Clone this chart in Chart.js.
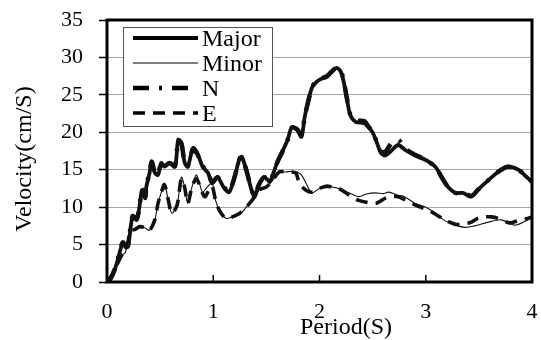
<!DOCTYPE html>
<html>
<head>
<meta charset="utf-8">
<script src="https://cdn.jsdelivr.net/npm/chart.js@4"></script>
<style>
  html, body { margin: 0; padding: 0; background: #fff; }
  #wrap { width: 541px; height: 340px; }
</style>
</head>
<body>
<div id="wrap"><canvas id="velocityChart" width="541" height="340"></canvas></div>
<script>
// response spectra, period in seconds, velocity in cm/s
const seriesNames = ["Major", "Minor", "N", "E"];
const periodTicks = [0, 1, 2, 3, 4];
const velocityTicks = [0, 5, 10, 15, 20, 25, 30, 35];

const majorPeriod = [0,0.03,0.07,0.10,0.13,0.15,0.18,0.20,0.24,0.28,0.31,0.33,0.36,0.37,0.40,0.42,0.45,0.48,0.51,0.54,0.59,0.64,0.67,0.70,0.73,0.76,0.81,0.85,0.90,0.95,0.99,1.04,1.10,1.15,1.20,1.25,1.27,1.31,1.36,1.39,1.43,1.48,1.53,1.55,1.60,1.65,1.70,1.74,1.79,1.83,1.86,1.89,1.93,1.97,2.01,2.07,2.12,2.16,2.20,2.23,2.26,2.29,2.34,2.42,2.46,2.50,2.54,2.58,2.62,2.68,2.74,2.81,2.90,3.00,3.09,3.15,3.21,3.28,3.35,3.43,3.49,3.59,3.68,3.77,3.87,3.96,4.00];
const majorVelocity = [0,0.3,1.5,2.9,4.5,5.2,4.6,4.8,8.7,8.3,10.5,12.3,11.2,12.7,14.5,16.0,14.6,14.3,15.9,15.4,15.9,15.4,19.0,18.6,16.0,15.4,17.9,17.2,15.4,14.6,13.2,14.0,12.6,12.0,14.0,16.6,16.7,15.0,12.3,11.4,13.0,14.0,13.4,13.9,15.9,17.4,19.0,20.7,20.3,19.4,22.0,23.9,26.0,26.7,27.1,27.4,28.1,28.6,28.1,26.6,24.3,22.3,21.4,21.2,20.7,20.0,18.6,17.2,16.9,17.6,18.3,17.6,16.9,16.3,15.4,14.0,12.7,11.9,11.9,11.4,12.3,13.6,14.7,15.4,15.0,13.9,13.4];

const minorPeriod = [0,0.05,0.10,0.14,0.17,0.20,0.22,0.26,0.31,0.36,0.40,0.45,0.48,0.51,0.54,0.57,0.61,0.66,0.70,0.73,0.76,0.80,0.84,0.87,0.90,0.95,0.99,1.02,1.06,1.12,1.18,1.25,1.31,1.37,1.43,1.50,1.56,1.62,1.68,1.74,1.79,1.83,1.88,1.93,2.00,2.06,2.12,2.18,2.28,2.37,2.45,2.53,2.60,2.65,2.74,2.80,2.90,3.00,3.09,3.18,3.28,3.37,3.46,3.59,3.71,3.84,3.96,4.00];
const minorVelocity = [0,1.0,2.5,3.6,3.9,5.5,6.9,7.0,7.4,7.2,6.9,8.3,10.5,11.9,13.2,11.4,9.2,10.3,14.0,12.7,10.5,12.7,14.3,13.2,12.0,12.8,13.2,11.0,9.5,8.5,8.7,9.0,10.0,11.0,12.3,12.7,13.6,14.7,14.7,14.8,14.7,14.3,13.0,11.9,12.5,12.6,12.7,12.5,11.9,11.4,11.8,11.9,11.8,12.0,11.6,11.4,10.5,10.0,9.2,8.2,7.6,7.3,7.5,8.0,8.3,7.6,8.3,8.5];

const nPeriod = [0,0.03,0.07,0.10,0.13,0.15,0.18,0.20,0.24,0.28,0.31,0.33,0.36,0.37,0.40,0.42,0.45,0.48,0.51,0.54,0.59,0.64,0.67,0.70,0.73,0.76,0.81,0.85,0.90,0.95,0.99,1.04,1.10,1.15,1.20,1.25,1.27,1.31,1.36,1.39,1.43,1.48,1.53,1.55,1.60,1.65,1.70,1.74,1.79,1.83,1.86,1.89,1.93,1.97,2.01,2.07,2.12,2.16,2.20,2.23,2.26,2.29,2.34,2.42,2.46,2.50,2.54,2.58,2.62,2.68,2.74,2.81,2.90,3.00,3.09,3.15,3.21,3.28,3.35,3.43,3.49,3.59,3.68,3.77,3.87,3.96,4.00];
const nVelocity = [0,0.4,1.6,3.0,4.6,5.3,4.7,5.0,8.8,8.4,10.6,12.4,11.3,12.8,14.6,16.1,14.7,14.4,15.9,15.5,15.9,15.5,18.9,18.5,16.1,15.5,17.8,17.1,15.5,14.7,13.3,14.0,12.7,12.1,14.0,16.5,16.6,15.0,12.4,11.5,13.0,14.0,13.5,13.9,15.9,17.4,19.0,20.6,20.4,19.6,22.0,23.9,26.0,26.9,27.2,27.5,28.2,28.6,28.2,26.7,24.4,22.4,21.6,21.5,20.8,20.0,18.7,17.4,17.4,18.6,19.0,17.8,17.0,16.3,15.4,14.0,12.7,11.9,11.9,11.5,12.3,13.6,14.7,15.4,15.0,13.9,13.4];

const ePeriod = [0,0.05,0.10,0.14,0.17,0.20,0.22,0.26,0.31,0.36,0.40,0.45,0.48,0.51,0.54,0.57,0.61,0.66,0.70,0.73,0.76,0.80,0.84,0.87,0.92,0.96,0.99,1.02,1.06,1.12,1.18,1.25,1.31,1.37,1.43,1.50,1.56,1.62,1.68,1.74,1.78,1.81,1.87,1.93,2.00,2.06,2.12,2.18,2.25,2.30,2.37,2.43,2.53,2.62,2.68,2.74,2.80,2.90,3.05,3.18,3.28,3.37,3.43,3.49,3.56,3.62,3.68,3.79,3.87,3.96,4.00];
const eVelocity = [0,1.0,2.5,3.6,4.0,5.5,6.9,7.0,7.4,7.2,6.9,8.3,10.5,11.9,13.0,11.4,9.2,10.3,13.8,12.7,10.5,12.7,13.8,13.0,11.4,12.3,12.8,11.0,9.5,8.5,8.7,9.2,10.0,11.0,12.3,12.7,13.6,14.7,14.7,14.7,14.5,13.2,12.3,12.0,12.5,12.8,12.7,12.5,11.9,11.4,10.9,10.7,10.5,11.2,11.4,11.4,11.0,10.3,9.4,8.3,7.7,7.8,8.0,8.5,8.7,8.7,8.5,7.9,8.2,8.5,8.7];

function toPoints(xs, ys) {
    return xs.map((x, i) => ({ x: x, y: ys[i] }));
}

const serif = "'Liberation Serif', 'Times New Roman', serif";

const lineStyles = [
    { width: 3.8, dash: [] },
    { width: 1.1, dash: [] },
    { width: 4.5, dash: [16, 10, 3, 10] },
    { width: 3.6, dash: [12, 8] }
];

// plot box fixed in canvas pixels
const plotBox = { left: 107, top: 20, right: 532, bottom: 282 };

// legend box, axis titles, inner x ticks and the heavy frame
const frame = {
    id: 'frame',
    afterDatasetsDraw(chart) {
        const ctx = chart.ctx;
        const a = chart.chartArea;
        const xs = chart.scales.x;
        ctx.save();
        ctx.strokeStyle = '#000';
        ctx.lineWidth = 1.5;
        xs.ticks.forEach(t => {
            const px = xs.getPixelForValue(t.value);
            ctx.beginPath();
            ctx.moveTo(px, a.bottom);
            ctx.lineTo(px, a.bottom - 7);
            ctx.stroke();
        });
        ctx.lineWidth = 3;
        ctx.strokeRect(a.left, a.top, a.right - a.left, a.bottom - a.top);

        // legend
        const lx = a.left + 16, ly = a.top + 7;
        ctx.fillStyle = '#fff';
        ctx.fillRect(lx, ly, 149, 99);
        ctx.lineWidth = 1;
        ctx.strokeStyle = '#555';
        ctx.strokeRect(lx + 0.5, ly + 0.5, 149, 99);
        ctx.font = '24px ' + serif;
        ctx.fillStyle = '#000';
        ctx.textBaseline = 'middle';
        ctx.textAlign = 'left';
        const rows = [11, 36, 61, 86];
        seriesNames.forEach((name, i) => {
            const y = ly + rows[i];
            ctx.strokeStyle = '#000';
            ctx.lineWidth = lineStyles[i].width;
            ctx.setLineDash(lineStyles[i].dash);
            ctx.beginPath();
            ctx.moveTo(lx + 10, y);
            ctx.lineTo(lx + 75, y);
            ctx.stroke();
            ctx.setLineDash([]);
            ctx.fillText(name, lx + 79, y + 2);
        });

        // axis titles
        ctx.textAlign = 'center';
        ctx.fillText('Period(S)', 346, 328);
        ctx.translate(25, 159);
        ctx.rotate(-Math.PI / 2);
        ctx.fillText('Velocity(cm/S)', 0, 0);
        ctx.restore();
    }
};

const seriesData = [
    toPoints(majorPeriod, majorVelocity),
    toPoints(minorPeriod, minorVelocity),
    toPoints(nPeriod, nVelocity),
    toPoints(ePeriod, eVelocity)
];

new Chart(document.getElementById('velocityChart'), {
    type: 'scatter',
    data: {
        datasets: seriesNames.map((name, i) => ({
            label: name,
            data: seriesData[i],
            showLine: true,
            borderColor: '#111',
            borderWidth: lineStyles[i].width,
            borderDash: lineStyles[i].dash,
            pointRadius: 0,
            tension: 0.3,
            fill: false
        }))
    },
    options: {
        responsive: false,
        animation: false,
        events: [],
        layout: { autoPadding: false, padding: { top: plotBox.top, right: 541 - plotBox.right, left: 0, bottom: 0 } },
        plugins: { legend: { display: false }, tooltip: { enabled: false } },
        scales: {
            x: {
                type: 'linear',
                min: periodTicks[0],
                max: periodTicks[periodTicks.length - 1],
                afterBuildTicks: s => { s.ticks = periodTicks.map(v => ({ value: v })); },
                afterFit: s => {
                    s.height = 340 - plotBox.bottom;
                    s.paddingLeft = 0; s.paddingRight = 0;
                },
                grid: { display: false, drawTicks: false },
                border: { display: false },
                ticks: { color: '#000', font: { family: serif, size: 22 }, padding: 17, maxRotation: 0 }
            },
            y: {
                min: velocityTicks[0],
                max: velocityTicks[velocityTicks.length - 1],
                afterBuildTicks: s => { s.ticks = velocityTicks.map(v => ({ value: v })); },
                afterFit: s => {
                    s.width = plotBox.left;
                    s.paddingTop = 0; s.paddingBottom = 0;
                },
                grid: { color: '#a6a6a6', lineWidth: 1, tickLength: 8, tickColor: '#000', tickWidth: 1.5 },
                border: { display: false },
                ticks: { color: '#000', font: { family: serif, size: 22 }, padding: 16 }
            }
        }
    },
    plugins: [frame]
});
</script>
</body>
</html>
